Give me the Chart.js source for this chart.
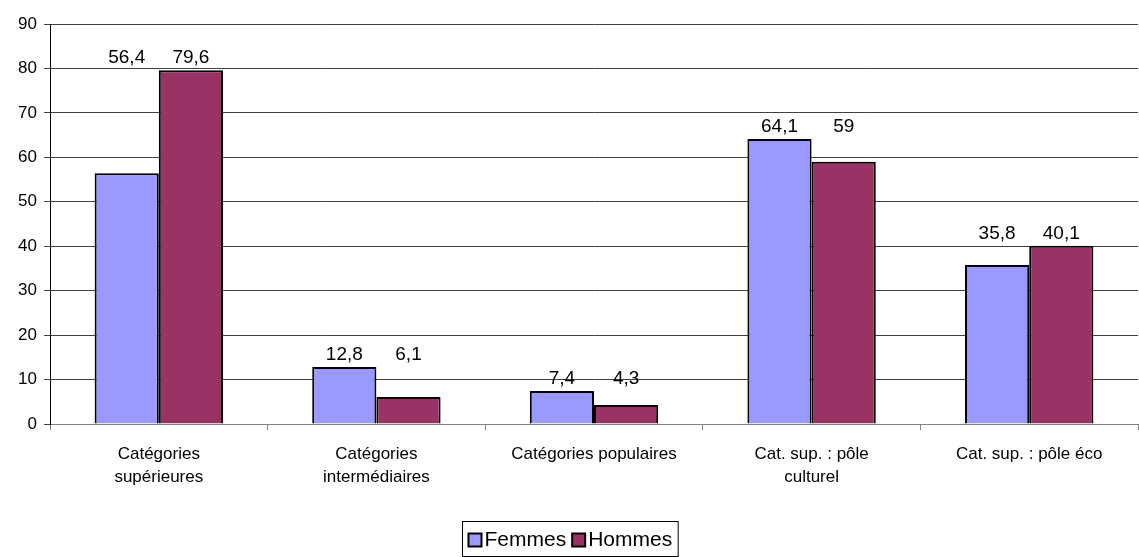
<!DOCTYPE html>
<html>
<head>
<meta charset="utf-8">
<script src="https://cdn.jsdelivr.net/npm/chart.js@4/dist/chart.umd.min.js"></script>
<style>
    html, body { margin: 0; padding: 0; background: #fff; }
    #wrap { width: 1139px; height: 557px; }
</style>
</head>
<body>
<div id="wrap"><canvas id="chart" width="1139" height="557"></canvas></div>
<script>
// Data
const categories = [
    ['Catégories', 'supérieures'],
    ['Catégories', 'intermédiaires'],
    'Catégories populaires',
    ['Cat. sup. : pôle', 'culturel'],
    'Cat. sup. : pôle éco'
];
const femmes = [56.4, 12.8, 7.4, 64.1, 35.8];
const hommes = [79.6, 6.1, 4.3, 59, 40.1];
const yTicks = [0, 10, 20, 30, 40, 50, 60, 70, 80, 90];

const FONT = 'Liberation Sans, Arial, sans-serif';
const COLORS = ['#9999FF', '#993366'];

// Value labels: both labels of a category sit at the same height above the taller bar
const valueLabels = {
    id: 'valueLabels',
    afterDatasetsDraw(chart) {
        const ctx = chart.ctx;
        const metas = [chart.getDatasetMeta(0), chart.getDatasetMeta(1)];
        ctx.save();
        ctx.font = '19px ' + FONT;
        ctx.fillStyle = '#000';
        ctx.textAlign = 'center';
        ctx.textBaseline = 'middle';
        categories.forEach((c, i) => {
            const top = Math.min(metas[0].data[i].y, metas[1].data[i].y);
            metas.forEach((m, d) => {
                const v = chart.data.datasets[d].data[i];
                ctx.fillText(String(v).replace('.', ','), m.data[i].x, top - 12);
            });
        });
        ctx.restore();
    }
};

// Boxed legend at the bottom
const boxLegend = {
    id: 'boxLegend',
    afterDraw(chart) {
        const ctx = chart.ctx;
        ctx.save();
        ctx.font = '21px ' + FONT;
        ctx.textBaseline = 'middle';
        const items = chart.data.datasets.map(ds => ({ label: ds.label, color: ds.backgroundColor }));
        const sq = 13, gap = 3, sep = 6, pad = 6;
        const widths = items.map(it => sq + gap + ctx.measureText(it.label).width);
        const total = widths.reduce((a, b) => a + b, 0) + sep * (items.length - 1) + pad * 2;
        const left = Math.round(chart.width / 2 - total / 2) + 0.5;
        const top = 521.5, h = 35;
        ctx.strokeStyle = '#000';
        ctx.lineWidth = 1;
        ctx.strokeRect(left, top, total, h);
        let x = left + pad;
        const cy = top + h / 2 + 1;
        items.forEach((it, i) => {
            ctx.fillStyle = it.color;
            ctx.fillRect(x, cy - sq / 2, sq, sq);
            ctx.lineWidth = 2;
            ctx.strokeRect(x, cy - sq / 2, sq, sq);
            ctx.fillStyle = '#000';
            ctx.fillText(it.label, x + sq + gap, cy);
            x += widths[i] + sep;
        });
        ctx.restore();
    }
};

new Chart(document.getElementById('chart'), {
    type: 'bar',
    data: {
        labels: categories,
        datasets: [
            { label: 'Femmes', data: femmes, backgroundColor: COLORS[0], borderColor: '#000', borderWidth: 2 },
            { label: 'Hommes', data: hommes, backgroundColor: COLORS[1], borderColor: '#000', borderWidth: 2 }
        ]
    },
    options: {
        responsive: false,
        animation: false,
        layout: { padding: { top: 24, right: 1, left: 0, bottom: 40 } },
        datasets: { bar: { categoryPercentage: 0.59, barPercentage: 1 } },
        plugins: {
            legend: { display: false },
            tooltip: { enabled: false }
        },
        scales: {
            x: {
                offset: true,
                grid: { offset: true, drawOnChartArea: false, tickLength: 6, color: '#808080' },
                border: { color: '#808080', width: 1 },
                ticks: { color: '#000', font: { family: FONT, size: 17, lineHeight: 1.35 }, maxRotation: 0, autoSkip: false, padding: 13 },
                afterFit(scale) { scale.height = 93; }
            },
            y: {
                min: 0,
                max: 90,
                afterBuildTicks(scale) { scale.ticks = yTicks.map(v => ({ value: v })); },
                grid: { color: '#404040', tickLength: 6 },
                border: { color: '#000', width: 1 },
                ticks: { color: '#000', font: { family: FONT, size: 17 }, padding: 7 },
                afterFit(scale) { scale.width = 50; }
            }
        }
    },
    plugins: [valueLabels, boxLegend]
});
</script>
</body>
</html>
